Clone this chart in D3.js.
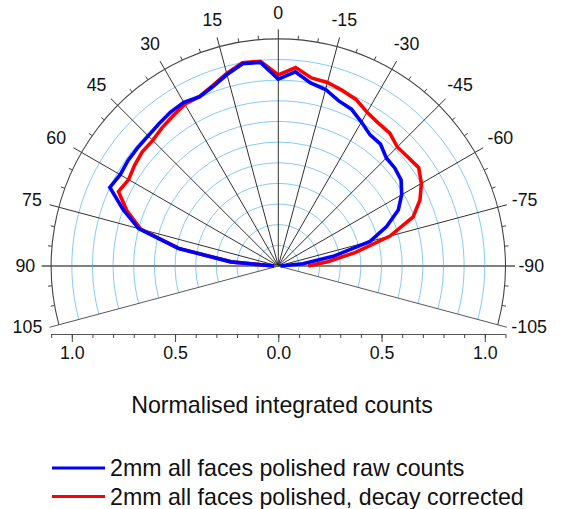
<!DOCTYPE html>
<html>
<head>
<meta charset="utf-8">
<script src="https://cdn.jsdelivr.net/npm/d3@7/dist/d3.min.js"></script>
<style>
  html, body { margin: 0; padding: 0; background: #fff; }
  svg { display: block; font-family: "Liberation Sans", Arial, sans-serif; }
</style>
</head>
<body>
<svg id="chart" width="563" height="509"></svg>
<script>
// ---------- data ----------
const angles = [-90,-85,-80,-75,-70,-65,-60,-55,-50,-45,-40,-35,-30,-25,-20,-15,-10,-5,0,
                5,10,15,20,25,30,35,40,45,50,55,60,65,70,75,80,85,90];
const rawCounts = [0.01,0.12,0.27,0.46,0.558,0.641,0.69,0.726,0.737,0.74,0.77,0.775,0.805,0.838,0.852,0.885,0.90,0.944,0.905,
                   0.99,0.995,0.96,0.925,0.904,0.915,0.91,0.899,0.891,0.89,0.889,0.884,0.90,0.80,0.70,0.49,0.23,0.02];
const decayCorrected = [0.145,0.24,0.38,0.56,0.695,0.757,0.80,0.83,0.82,0.815,0.84,0.845,0.86,0.89,0.905,0.92,0.925,0.965,0.925,
                        0.995,1.0,0.965,0.93,0.905,0.905,0.888,0.875,0.86,0.86,0.85,0.837,0.854,0.78,0.69,0.49,0.23,0.02];
const seriesNames = ["2mm all faces polished raw counts", "2mm all faces polished, decay corrected"];
const seriesColors = ["#0000ff", "#ff0000"];
const angleTicks = [-105,-90,-75,-60,-45,-30,-15,0,15,30,45,60,75,90,105];
const ringValues = [0.1,0.2,0.3,0.4,0.5,0.6,0.7,0.8,0.9,1.0];
const xTickValues = [-1.1,-1.0,-0.9,-0.8,-0.7,-0.6,-0.5,-0.4,-0.3,-0.2,-0.1,0,0.1,0.2,0.3,0.4,0.5,0.6,0.7,0.8,0.9,1.0,1.1];
const xMajorTicks = [-1.0,-0.5,0,0.5,1.0];
const axisTitle = "Normalised integrated counts";

// ---------- layout ----------
const svg = d3.select("#chart");
const cx = 278.3, cy = 266;
const R1 = 206.5;
const rMax = 1.1;
const r = d3.scaleLinear().domain([0, rMax]).range([0, rMax * R1]);
const outerR = r(rMax);
const g = svg.append("g").attr("transform", `translate(${cx},${cy})`);

const toRad = d => d * Math.PI / 180;
const pt = (deg, rad) => [-Math.sin(toRad(deg)) * rad, -Math.cos(toRad(deg)) * rad];

function arcPath(rad) {
  const p = d3.path();
  const a0 = toRad(-90 - 105), a1 = toRad(-90 + 105);
  const s = pt(105, rad);
  p.moveTo(s[0], s[1]);
  p.arc(0, 0, rad, a0, a1, false);
  return p.toString();
}

// rings
g.selectAll("path.ring").data(ringValues).join("path")
  .attr("class", "ring")
  .attr("d", d => arcPath(r(d)))
  .attr("fill", "none")
  .attr("stroke", "#84cbf4")
  .attr("stroke-width", 1);

// spokes
const spokeLen = outerR + 9.5;
g.selectAll("line.spoke").data(angleTicks).join("line")
  .attr("class", "spoke")
  .attr("x1", 0).attr("y1", 0)
  .attr("x2", d => pt(d, spokeLen)[0])
  .attr("y2", d => pt(d, spokeLen)[1])
  .attr("stroke", d => Math.abs(d) === 90 ? "#808080" : (Math.abs(d) === 105 ? "#444" : "#1a1a1a"))
  .attr("stroke-width", d => Math.abs(d) === 90 ? 1.9 : 0.9);

// outer arc
g.append("path").attr("d", arcPath(outerR))
  .attr("fill", "none").attr("stroke", "#444").attr("stroke-width", 1.1);

// minor ticks on arc every 5 deg
const minorAngles = d3.range(-105, 106, 5).filter(a => a % 15 !== 0);
g.selectAll("line.mtick").data(minorAngles).join("line")
  .attr("class", "mtick")
  .attr("x1", d => pt(d, outerR)[0]).attr("y1", d => pt(d, outerR)[1])
  .attr("x2", d => pt(d, outerR + 4)[0]).attr("y2", d => pt(d, outerR + 4)[1])
  .attr("stroke", "#444").attr("stroke-width", 1);

// angle labels
const labR = d => Math.abs(d) === 105 ? 258 : 253 + 4 * Math.abs(Math.sin(toRad(2 * d)));
const labA = d => Math.abs(d) === 105 ? Math.sign(d) * 103.5 : d;
g.selectAll("text.alab").data(angleTicks).join("text")
  .attr("class", "alab")
  .attr("x", d => pt(labA(d), labR(d))[0])
  .attr("y", d => pt(labA(d), labR(d))[1])
  .attr("text-anchor", "middle")
  .attr("dy", "0.36em")
  .attr("font-size", 17.8)
  .attr("fill", "#111")
  .text(d => d);

// data lines
const line = d3.lineRadial()
  .angle(d => toRad(-d[0]))
  .radius(d => r(d[1]));
const series = [rawCounts, decayCorrected];
[1, 0].forEach(i => {
  g.append("path")
    .datum(angles.map((a, j) => [a, series[i][j]]))
    .attr("d", line)
    .attr("fill", "none")
    .attr("stroke", seriesColors[i])
    .attr("stroke-width", 3.6)
    .attr("stroke-linejoin", "miter");
});

// bottom x axis
const axisY = 334;
const x = d3.scaleLinear().domain([-rMax, rMax]).range([cx - outerR, cx + outerR]);
const fmt = v => Math.abs(v).toFixed(1);
const minorAxis = svg.append("g").attr("transform", `translate(0,${axisY})`)
  .call(d3.axisBottom(x).tickValues(xTickValues).tickSize(4).tickFormat(""));
const majorAxis = svg.append("g").attr("transform", `translate(0,${axisY})`)
  .call(d3.axisBottom(x).tickValues(xMajorTicks).tickSize(8).tickPadding(4).tickFormat(fmt));
[minorAxis, majorAxis].forEach(ax => {
  ax.select(".domain").attr("stroke", "#555").attr("stroke-width", 1.1);
  ax.selectAll(".tick line").attr("stroke", "#444");
});
majorAxis.select(".domain").remove();
minorAxis.select(".domain").attr("d", `M${cx - outerR},0.5H${cx + outerR}`);
majorAxis.selectAll(".tick text")
  .attr("font-size", 17.8)
  .attr("font-family", "Liberation Sans, Arial, sans-serif")
  .attr("fill", "#111");

// axis title
svg.append("text")
  .attr("x", 282).attr("y", 413)
  .attr("text-anchor", "middle")
  .attr("font-size", 23.2)
  .attr("fill", "#111")
  .text(axisTitle);

// legend
const legendY = [468, 496.5];
seriesNames.forEach((name, i) => {
  svg.append("line")
    .attr("x1", 52).attr("x2", 105)
    .attr("y1", legendY[i]).attr("y2", legendY[i])
    .attr("stroke", seriesColors[i]).attr("stroke-width", 3);
  svg.append("text")
    .attr("x", 110).attr("y", legendY[i] + 8.3)
    .attr("font-size", 23.2)
    .attr("fill", "#111")
    .text(name);
});
</script>
</body>
</html>
